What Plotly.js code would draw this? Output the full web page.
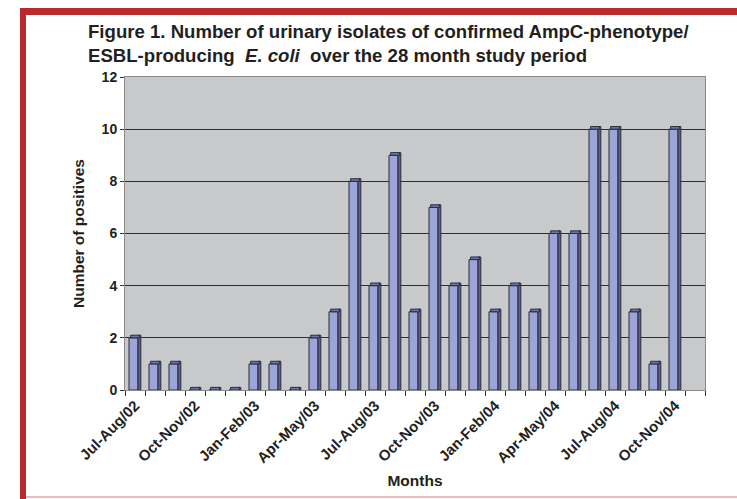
<!DOCTYPE html>
<html>
<head>
<meta charset="utf-8">
<script src="https://cdn.plot.ly/plotly-3.0.1.min.js"></script>
<style>html,body{margin:0;padding:0;background:#fff;}#chart{width:737px;height:499px;}</style>
</head>
<body>
<div id="chart"></div>
<script>
// Data
var months = ["Jul-Aug/02","Aug-Sep/02","Sep-Oct/02","Oct-Nov/02","Nov-Dec/02","Dec-Jan/03",
  "Jan-Feb/03","Feb-Mar/03","Mar-Apr/03","Apr-May/03","May-Jun/03","Jun-Jul/03",
  "Jul-Aug/03","Aug-Sep/03","Sep-Oct/03","Oct-Nov/03","Nov-Dec/03","Dec-Jan/04",
  "Jan-Feb/04","Feb-Mar/04","Mar-Apr/04","Apr-May/04","May-Jun/04","Jun-Jul/04",
  "Jul-Aug/04","Aug-Sep/04","Sep-Oct/04","Oct-Nov/04","Nov-Dec/04"];
var positives = [2,1,1,0,0,0,1,1,0,2,3,8,4,9,3,7,4,5,3,4,3,6,6,10,10,3,1,10,null];
var tickLabels = months.map(function(m,i){ return i % 3 === 0 ? m : ""; });

var W = 737, H = 499;
var M = {l:125, r:32, t:77, b:109};
var pw = W - M.l - M.r, ph = H - M.t - M.b;
function pxX(x){ return (x - M.l)/pw; }
function pxY(y){ return (H - M.b - y)/ph; }

var depth = 0.1;
var outline = {color:"#2b2d3a", width:1};
var frontFace = {type:"bar", x:months, y:positives, width:0.45, offset:-0.3,
  marker:{color:"#9ba5d8", line:outline}, hoverinfo:"x+y", showlegend:false};
var sideFace = {type:"bar", x:months,
  y:positives.map(function(v){ return v===null?null:v+depth; }),
  width:0.14, offset:0.15,
  marker:{color:"#5a6390", line:outline}, hoverinfo:"skip", showlegend:false};
var topFace = {type:"bar", x:months,
  y:positives.map(function(v){ return v===null?null:depth; }),
  base:positives,
  width:0.45, offset:-0.22,
  marker:{color:"#6d76ab", line:outline}, hoverinfo:"skip", showlegend:false};

var redColor = "#b92a2f";
var chartLayout = {
  width:W, height:H, margin:M, barmode:"overlay",
  paper_bgcolor:"#ffffff", plot_bgcolor:"#c8c9cb",
  font:{family:"Liberation Sans, Arial, sans-serif", color:"#231f20"},
  annotations:[
    {text:"<b>Figure 1. Number of urinary isolates of confirmed AmpC-phenotype/<br>ESBL-producing  <i>E. coli</i>  over the 28 month study period</b>",
     xref:"paper", yref:"paper", x:pxX(86), y:pxY(19), xanchor:"left", yanchor:"top",
     align:"left", showarrow:false, font:{size:18.6, color:"#231f20"}}
  ],
  xaxis:{type:"category", tickvals:months, ticktext:tickLabels, tickson:"boundaries",
    ticks:"outside", ticklen:5, tickcolor:"#333", tickangle:-45,
    tickfont:{size:15, color:"#231f20", weight:"bold"},
    showgrid:false, showline:true, linecolor:"#8a8a8a", mirror:true,
    range:[-0.5, months.length-0.5], fixedrange:true,
    title:{text:"<b>Months</b>", font:{size:15.5}, standoff:10}},
  yaxis:{range:[0,12], dtick:2, ticks:"outside", ticklen:4, tickcolor:"#333",
    tickfont:{size:14, weight:"bold"},
    showgrid:true, gridcolor:"#2e2e2e", gridwidth:1,
    zeroline:true, zerolinecolor:"#222", zerolinewidth:1,
    showline:true, linecolor:"#8a8a8a", mirror:true,
    title:{text:"<b>Number of positives</b>", font:{size:15.5}, standoff:13}},
  shapes:[
    {type:"rect", xref:"paper", yref:"paper", x0:pxX(20), x1:pxX(737), y0:pxY(15), y1:pxY(8),
      fillcolor:redColor, line:{width:0}, layer:"above"},
    {type:"rect", xref:"paper", yref:"paper", x0:pxX(20), x1:pxX(26), y0:pxY(499), y1:pxY(8),
      fillcolor:redColor, line:{width:0}, layer:"above"},
    {type:"rect", xref:"paper", yref:"paper", x0:pxX(26), x1:pxX(737), y0:pxY(498), y1:pxY(496),
      fillcolor:"#f2b8b8", line:{width:0}, layer:"above"}
  ]
};
Plotly.newPlot("chart", [frontFace, sideFace, topFace], chartLayout, {staticPlot:true, displayModeBar:false});
</script>
</body>
</html>
